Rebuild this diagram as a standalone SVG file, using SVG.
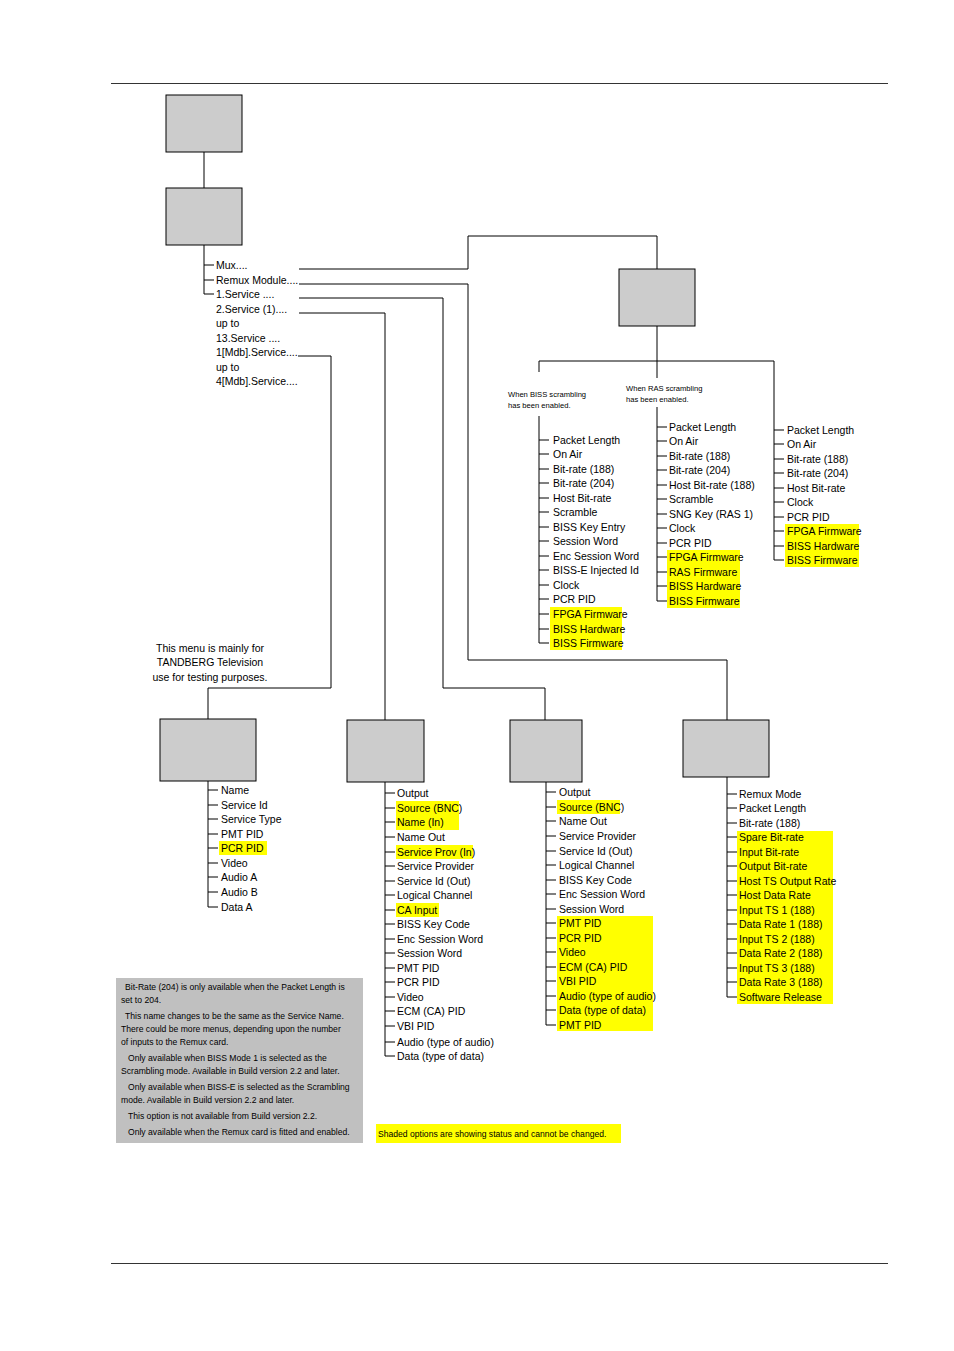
<svg xmlns="http://www.w3.org/2000/svg" width="954" height="1351" viewBox="0 0 954 1351">
<style>
.bx{fill:#cccccc;stroke:#000;stroke-width:1}
.ln{fill:none;stroke:#000;stroke-width:1}
text{font-family:"Liberation Sans",Arial,sans-serif;font-size:10.5px;fill:#000}
.sm{font-size:7.6px}
.nt{font-size:8.6px}
.hl{fill:#ffff00}
</style>
<rect width="954" height="1351" fill="#fff"/>
<line x1="111" y1="83.5" x2="888" y2="83.5" stroke="#000" stroke-width="0.8"/>
<line x1="111" y1="1263.5" x2="888" y2="1263.5" stroke="#000" stroke-width="0.8"/>

<g id="connectors" class="ln">
<path d="M204 152V188"/>
<path d="M204 245V294H214M204 265H214M204 280H214"/>
<path d="M299 269H468V236H657V269"/>
<path d="M299 284H468V660H727V720"/>
<path d="M299 298H443V688H545V720"/>
<path d="M299 313H385V720"/>
<path d="M298 356H331V688H208V719"/>
<path d="M657 326V361M539 361H774M539 361V372M657 361V378M774 361V410"/>
<path d="M539 416V643H549M539 440H549M539 454H549M539 469H549M539 483H549M539 498H549M539 512H549M539 527H549M539 541H549M539 556H549M539 570H549M539 585H549M539 599H549M539 614H549M539 629H549"/>
<path d="M657 407V601H667M657 427H667M657 441H667M657 456H667M657 470H667M657 485H667M657 499H667M657 514H667M657 528H667M657 543H667M657 557H667M657 572H667M657 586H667"/>
<path d="M774 410V560H784M774 430H784M774 444H784M774 459H784M774 473H784M774 488H784M774 502H784M774 517H784M774 531H784M774 546H784"/>
<path d="M208 781V907H218M208 790H218M208 805H218M208 819H218M208 834H218M208 848H218M208 863H218M208 877H218M208 892H218"/>
<path d="M385 782V1056H395M385 793H395M385 808H395M385 822H395M385 837H395M385 852H395M385 866H395M385 881H395M385 895H395M385 910H395M385 924H395M385 939H395M385 953H395M385 968H395M385 982H395M385 997H395M385 1011H395M385 1026H395M385 1042H395"/>
<path d="M546 782V1025H556M546 792H556M546 807H556M546 821H556M546 836H556M546 851H556M546 865H556M546 880H556M546 894H556M546 909H556M546 923H556M546 938H556M546 952H556M546 967H556M546 981H556M546 996H556M546 1010H556"/>
<path d="M727 777V997H737M727 794H737M727 808H737M727 823H737M727 837H737M727 852H737M727 866H737M727 881H737M727 895H737M727 910H737M727 924H737M727 939H737M727 953H737M727 968H737M727 982H737"/>
</g>

<g id="n-top"><rect class="bx" x="166" y="95" width="76" height="57"/></g>
<g id="n-second"><rect class="bx" x="166" y="188" width="76" height="57"/></g>
<g id="n-menu">
<text x="216" y="269">Mux....</text>
<text x="216" y="284">Remux Module....</text>
<text x="216" y="298">1.Service ....</text>
<text x="216" y="313">2.Service (1)....</text>
<text x="216" y="327">up to</text>
<text x="216" y="342">13.Service ....</text>
<text x="216" y="356">1[Mdb].Service....</text>
<text x="216" y="371">up to</text>
<text x="216" y="385">4[Mdb].Service....</text>
</g>

<g id="n-mux"><rect class="bx" x="619" y="269" width="76" height="57"/></g>
<g id="n-biss">
<text class="sm" x="508" y="397">When BISS scrambling</text>
<text class="sm" x="508" y="408">has been enabled.</text>
<rect class="hl" x="550" y="607" width="72" height="43"/>
<text x="553" y="444">Packet Length</text>
<text x="553" y="458">On Air</text>
<text x="553" y="473">Bit-rate (188)</text>
<text x="553" y="487">Bit-rate (204)</text>
<text x="553" y="502">Host Bit-rate</text>
<text x="553" y="516">Scramble</text>
<text x="553" y="531">BISS Key Entry</text>
<text x="553" y="545">Session Word</text>
<text x="553" y="560">Enc Session Word</text>
<text x="553" y="574">BISS-E Injected Id</text>
<text x="553" y="589">Clock</text>
<text x="553" y="603">PCR PID</text>
<text x="553" y="618">FPGA Firmware</text>
<text x="553" y="633">BISS Hardware</text>
<text x="553" y="647">BISS Firmware</text>
</g>
<g id="n-ras">
<text class="sm" x="626" y="391">When RAS scrambling</text>
<text class="sm" x="626" y="402">has been enabled.</text>
<rect class="hl" x="667" y="550" width="73" height="58"/>
<text x="669" y="431">Packet Length</text>
<text x="669" y="445">On Air</text>
<text x="669" y="460">Bit-rate (188)</text>
<text x="669" y="474">Bit-rate (204)</text>
<text x="669" y="489">Host Bit-rate (188)</text>
<text x="669" y="503">Scramble</text>
<text x="669" y="518">SNG Key (RAS 1)</text>
<text x="669" y="532">Clock</text>
<text x="669" y="547">PCR PID</text>
<text x="669" y="561">FPGA Firmware</text>
<text x="669" y="576">RAS Firmware</text>
<text x="669" y="590">BISS Hardware</text>
<text x="669" y="605">BISS Firmware</text>
</g>
<g id="n-plain">
<rect class="hl" x="785" y="524" width="74" height="43"/>
<text x="787" y="434">Packet Length</text>
<text x="787" y="448">On Air</text>
<text x="787" y="463">Bit-rate (188)</text>
<text x="787" y="477">Bit-rate (204)</text>
<text x="787" y="492">Host Bit-rate</text>
<text x="787" y="506">Clock</text>
<text x="787" y="521">PCR PID</text>
<text x="787" y="535">FPGA Firmware</text>
<text x="787" y="550">BISS Hardware</text>
<text x="787" y="564">BISS Firmware</text>
</g>

<g id="n-test-note">
<text x="210" y="652" text-anchor="middle">This menu is mainly for</text>
<text x="210" y="666" text-anchor="middle">TANDBERG Television</text>
<text x="210" y="681" text-anchor="middle">use for testing purposes.</text>
</g>

<g id="n-mdb">
<rect class="bx" x="160" y="719" width="96" height="62"/>
<rect class="hl" x="219" y="841" width="48" height="14"/>
<text x="221" y="794">Name</text>
<text x="221" y="809">Service Id</text>
<text x="221" y="823">Service Type</text>
<text x="221" y="838">PMT PID</text>
<text x="221" y="852">PCR PID</text>
<text x="221" y="867">Video</text>
<text x="221" y="881">Audio A</text>
<text x="221" y="896">Audio B</text>
<text x="221" y="911">Data A</text>
</g>

<g id="n-service2">
<rect class="bx" x="347" y="720" width="77" height="62"/>
<rect class="hl" x="396" y="801" width="63" height="29"/>
<rect class="hl" x="396" y="845" width="77" height="14"/>
<rect class="hl" x="396" y="903" width="43" height="14"/>
<text x="397" y="797">Output</text>
<text x="397" y="812">Source (BNC)</text>
<text x="397" y="826">Name (In)</text>
<text x="397" y="841">Name Out</text>
<text x="397" y="856">Service Prov (In)</text>
<text x="397" y="870">Service Provider</text>
<text x="397" y="885">Service Id (Out)</text>
<text x="397" y="899">Logical Channel</text>
<text x="397" y="914">CA Input</text>
<text x="397" y="928">BISS Key Code</text>
<text x="397" y="943">Enc Session Word</text>
<text x="397" y="957">Session Word</text>
<text x="397" y="972">PMT PID</text>
<text x="397" y="986">PCR PID</text>
<text x="397" y="1001">Video</text>
<text x="397" y="1015">ECM (CA) PID</text>
<text x="397" y="1030">VBI PID</text>
<text x="397" y="1046">Audio (type of audio)</text>
<text x="397" y="1060">Data (type of data)</text>
</g>

<g id="n-service1">
<rect class="bx" x="510" y="720" width="72" height="62"/>
<rect class="hl" x="557" y="800" width="63" height="14"/>
<rect class="hl" x="557" y="916" width="96" height="115"/>
<text x="559" y="796">Output</text>
<text x="559" y="811">Source (BNC)</text>
<text x="559" y="825">Name Out</text>
<text x="559" y="840">Service Provider</text>
<text x="559" y="855">Service Id (Out)</text>
<text x="559" y="869">Logical Channel</text>
<text x="559" y="884">BISS Key Code</text>
<text x="559" y="898">Enc Session Word</text>
<text x="559" y="913">Session Word</text>
<text x="559" y="927">PMT PID</text>
<text x="559" y="942">PCR PID</text>
<text x="559" y="956">Video</text>
<text x="559" y="971">ECM (CA) PID</text>
<text x="559" y="985">VBI PID</text>
<text x="559" y="1000">Audio (type of audio)</text>
<text x="559" y="1014">Data (type of data)</text>
<text x="559" y="1029">PMT PID</text>
</g>

<g id="n-remux">
<rect class="bx" x="683" y="720" width="86" height="57"/>
<rect class="hl" x="737" y="831" width="96" height="173"/>
<text x="739" y="798">Remux Mode</text>
<text x="739" y="812">Packet Length</text>
<text x="739" y="827">Bit-rate (188)</text>
<text x="739" y="841">Spare Bit-rate</text>
<text x="739" y="856">Input Bit-rate</text>
<text x="739" y="870">Output Bit-rate</text>
<text x="739" y="885">Host TS Output Rate</text>
<text x="739" y="899">Host Data Rate</text>
<text x="739" y="914">Input TS 1 (188)</text>
<text x="739" y="928">Data Rate 1 (188)</text>
<text x="739" y="943">Input TS 2 (188)</text>
<text x="739" y="957">Data Rate 2 (188)</text>
<text x="739" y="972">Input TS 3 (188)</text>
<text x="739" y="986">Data Rate 3 (188)</text>
<text x="739" y="1001">Software Release</text>
</g>

<g id="n-notes">
<rect x="116" y="978" width="247" height="165" fill="#c0c0c0"/>
<text class="nt" x="125" y="990">Bit-Rate (204) is only available when the Packet Length is</text>
<text class="nt" x="121" y="1003">set to 204.</text>
<text class="nt" x="125" y="1019">This name changes to be the same as the Service Name.</text>
<text class="nt" x="121" y="1032">There could be more menus, depending upon the number</text>
<text class="nt" x="121" y="1045">of inputs to the Remux card.</text>
<text class="nt" x="128" y="1061">Only available when BISS Mode 1 is selected as the</text>
<text class="nt" x="121" y="1074">Scrambling mode. Available in Build version 2.2 and later.</text>
<text class="nt" x="128" y="1090">Only available when BISS-E is selected as the Scrambling</text>
<text class="nt" x="121" y="1103">mode. Available in Build version 2.2 and later.</text>
<text class="nt" x="128" y="1119">This option is not available from Build version 2.2.</text>
<text class="nt" x="128" y="1135">Only available when the Remux card is fitted and enabled.</text>
</g>
<g id="n-legend">
<rect class="hl" x="376" y="1124" width="245" height="19"/>
<text class="nt" x="378" y="1137">Shaded options are showing status and cannot be changed.</text>
</g>
</svg>
